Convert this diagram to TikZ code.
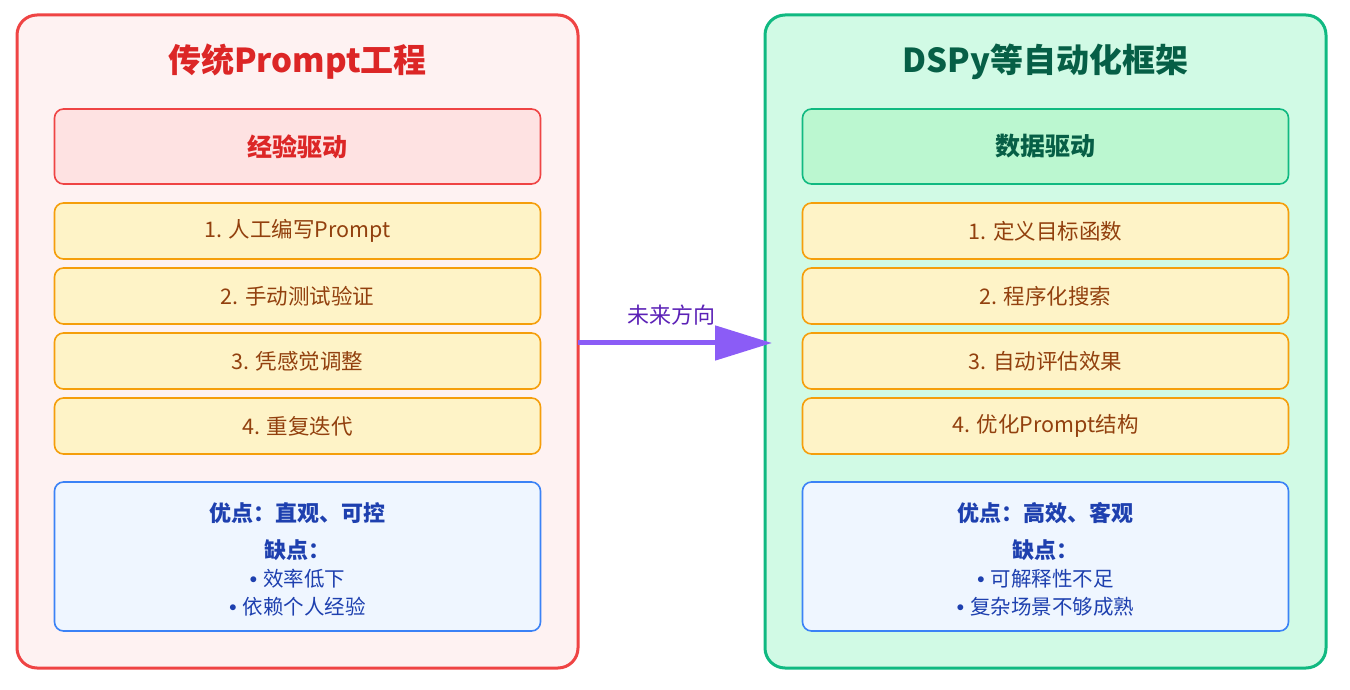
\documentclass[tikz,border=0pt]{standalone}
\usepackage{fontspec}
\setmainfont{Noto Sans CJK SC}
\newfontfamily\bulletfont{Liberation Sans}
\usetikzlibrary{arrows.meta,positioning,calc}
\definecolor{redline}{HTML}{EF4444}
\definecolor{redbg}{HTML}{FEF2F2}
\definecolor{redhead}{HTML}{FEE2E2}
\definecolor{redink}{HTML}{DC2626}
\definecolor{greenline}{HTML}{10B981}
\definecolor{greenbg}{HTML}{D1FAE5}
\definecolor{greenhead}{HTML}{BBF7D0}
\definecolor{greenink}{HTML}{065F46}
\definecolor{stepline}{HTML}{F59E0B}
\definecolor{stepbg}{HTML}{FEF3C7}
\definecolor{stepink}{HTML}{92400E}
\definecolor{noteline}{HTML}{3B82F6}
\definecolor{notebg}{HTML}{EFF6FF}
\definecolor{noteink}{HTML}{1E40AF}
\definecolor{arrowink}{HTML}{8B5CF6}
\definecolor{arrowtext}{HTML}{5B21B6}
\newcommand{\bul}{{\bulletfont\bfseries •}\hspace{0.3em}}

\begin{document}
\begin{tikzpicture}[
  x=1pt, y=1pt,
  panel/.style={draw, line width=3pt, rounded corners=20pt, outer sep=0pt,
                minimum width=561pt, minimum height=653pt},
  paneltitle/.style={font=\fontsize{33}{38}\selectfont\bfseries, inner sep=0pt},
  headbox/.style={draw, line width=1.6pt, rounded corners=9pt, outer sep=0pt,
                  minimum width=486pt, minimum height=75pt,
                  font=\fontsize{25}{30}\selectfont\bfseries},
  stepbox/.style={draw=stepline, fill=stepbg, text=stepink, line width=1.6pt,
                  rounded corners=9pt, outer sep=0pt,
                  minimum width=486pt, minimum height=56pt,
                  font=\fontsize{21.5}{26}\selectfont},
  notebox/.style={draw=noteline, fill=notebg, line width=1.6pt,
                  rounded corners=9pt, outer sep=0pt,
                  minimum width=486pt, minimum height=149pt},
  notetext/.style={text=noteink, align=center, inner sep=0pt,
                   font=\fontsize{20.5}{28}\selectfont},
  node distance=9pt,
]
\useasboundingbox (0,0) rectangle (1350,689);

% --- Left panel: traditional prompt engineering ---
\node[panel, draw=redline, fill=redbg] (lpanel) at (297.5,347.5) {};
\node[paneltitle, text=redink] (ltitle) at ($(lpanel.north)+(0,-47)$) {传统Prompt工程};
\node[headbox, draw=redline, fill=redhead, text=redink, below=94pt of lpanel.north] (lhead) {经验驱动};
\node[stepbox, below=19pt of lhead] (lstep1) {1. 人工编写Prompt};
\node[stepbox, below=of lstep1] (lstep2) {2. 手动测试验证};
\node[stepbox, below=of lstep2] (lstep3) {3. 凭感觉调整};
\node[stepbox, below=of lstep3] (lstep4) {4. 重复迭代};
\node[notebox, below=28pt of lstep4] (lnote) {};
\node[notetext] at ($(lnote.center)+(0,-3)$)
  {{\fontsize{22}{28}\selectfont\bfseries 优点：直观、可控}\\[9pt]
   {\fontsize{22}{28}\selectfont\bfseries 缺点：}\\
   \bul 效率低下\\
   \bul 依赖个人经验};

% --- Right panel: DSPy-style automated frameworks ---
\node[panel, draw=greenline, fill=greenbg] (rpanel) at (1045.5,347.5) {};
\node[paneltitle, text=greenink] (rtitle) at ($(rpanel.north)+(0,-47)$) {DSPy等自动化框架};
\node[headbox, draw=greenline, fill=greenhead, text=greenink, below=94pt of rpanel.north] (rhead) {数据驱动};
\node[stepbox, below=19pt of rhead] (rstep1) {1. 定义目标函数};
\node[stepbox, below=of rstep1] (rstep2) {2. 程序化搜索};
\node[stepbox, below=of rstep2] (rstep3) {3. 自动评估效果};
\node[stepbox, below=of rstep3] (rstep4) {4. 优化Prompt结构};
\node[notebox, below=28pt of rstep4] (rnote) {};
\node[notetext] at ($(rnote.center)+(0,-3)$)
  {{\fontsize{22}{28}\selectfont\bfseries 优点：高效、客观}\\[9pt]
   {\fontsize{22}{28}\selectfont\bfseries 缺点：}\\
   \bul 可解释性不足\\
   \bul 复杂场景不够成熟};

% --- Direction arrow between the panels ---
\draw[arrowink, line width=5pt, -{Triangle[length=57pt,width=34pt]}, shorten >=-7pt]
  ($(lpanel.east)+(0,-1.5)$) -- ($(rpanel.west)+(0,-1.5)$)
  node[midway, above=12pt, text=arrowtext, font=\fontsize{22}{26}\selectfont] (future) {未来方向};
\end{tikzpicture}
\end{document}
